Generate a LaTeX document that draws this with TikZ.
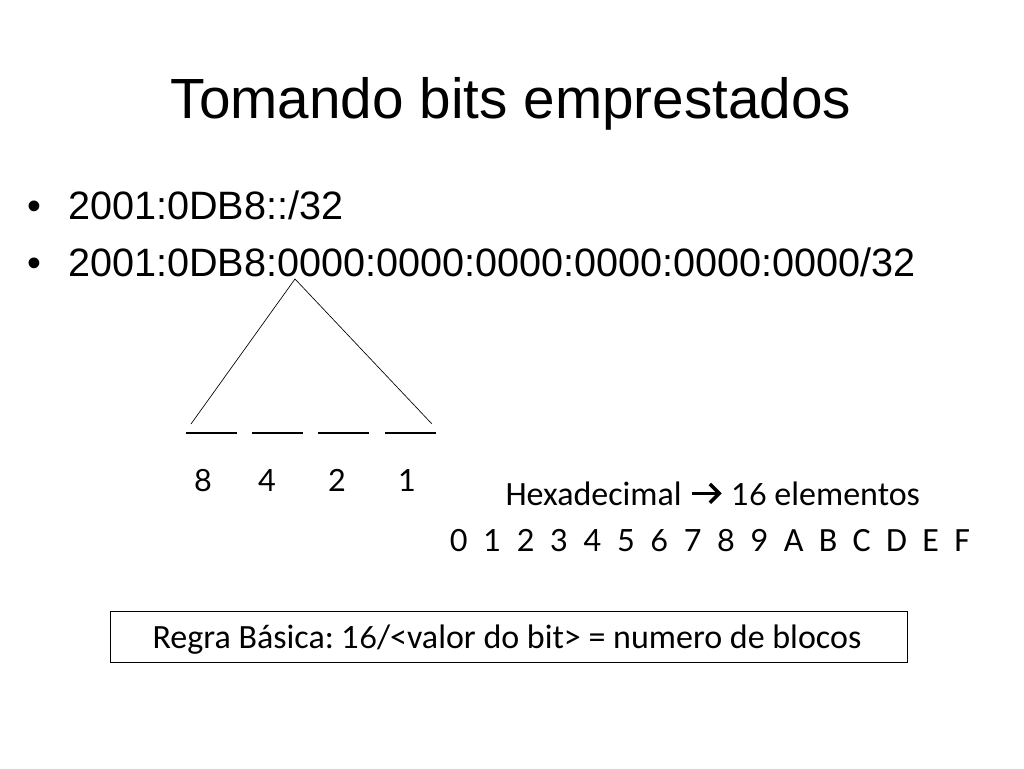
\documentclass[tikz,border=0pt]{standalone}
\usepackage{fontspec}
\setmainfont{Carlito}
\newfontfamily\arialfont{Liberation Sans}
\newfontfamily\digitfont{Lato}[Scale=0.9]
\newcommand{\dg}[1]{{\digitfont #1}}
\usepackage{tikz}
\usetikzlibrary{arrows.meta,positioning}
\frenchspacing

\begin{document}
\begin{tikzpicture}[
  x=0.75pt, y=-0.75pt,
  title/.style={font=\arialfont\fontsize{42.5}{50}\selectfont, anchor=base, inner sep=0pt},
  bullet/.style={font=\arialfont\fontsize{29.7}{36}\selectfont, anchor=base west, inner sep=0pt},
  txt/.style={font=\fontsize{25.5}{30}\selectfont, anchor=base, inner sep=0pt},
  rule/.style={line width=1.5pt},
  side/.style={line width=0.5pt},
  arr/.style={-{Straight Barb[length=7pt, width=14pt]}, line width=2.6pt, shorten <=7.5pt, shorten >=7pt}
]
  \useasboundingbox (0,0) rectangle (1024,768);

  \node[title] (head) at (511,118) {Tomando bits emprestados};

  \node[bullet] (dot1) at (27,219) {•};
  \node[bullet] (addr1) at (68,219) {2001:0DB8::/32};
  \node[bullet] (dot2) at (27,276) {•};
  \node[bullet] (addr2) at (68,276) {2001:0DB8:0000:0000:0000:0000:0000:0000/32};

  % triangle over the first group of zeros
  \coordinate (apex) at (295,279);
  \coordinate (lft) at (191,424);
  \coordinate (rgt) at (432,424);
  \draw[side] (lft) -- (apex) -- (rgt);

  % bit places
  \draw[rule] (186,433) -- (237,433);
  \draw[rule] (252,433) -- (303,433);
  \draw[rule] (318,433) -- (369,433);
  \draw[rule] (385,433) -- (436,433);

  \node[txt] (b8) at (203,491) {\dg{8}};
  \node[txt] (b4) at (267,491) {\dg{4}};
  \node[txt] (b2) at (337,491) {\dg{2}};
  \node[txt] (b1) at (407,491) {\dg{1}};

  \node[txt, anchor=base east] (hex) at (682,505) {Hexadecimal};
  \node[txt, anchor=base west] (elem) at (731,505) {\dg{16} elementos};
  \draw[arr] (hex.east) -- (hex.east -| elem.west);
  \node[txt] (digits) at (710,551) {\dg{0~~1~~2~~3~~4~~5~~6~~7~~8~~9}~~A~~B~~C~~D~~E~~F};

  \node[draw, line width=0.6pt, inner sep=0pt,
        minimum width=597.75pt, minimum height=38.25pt] (rule-box) at (508.5,636.5) {};
  \node[txt] (rule-txt) at (507,648) {Regra Básica: \dg{16}/<valor do bit> = numero de blocos};
\end{tikzpicture}
\end{document}
